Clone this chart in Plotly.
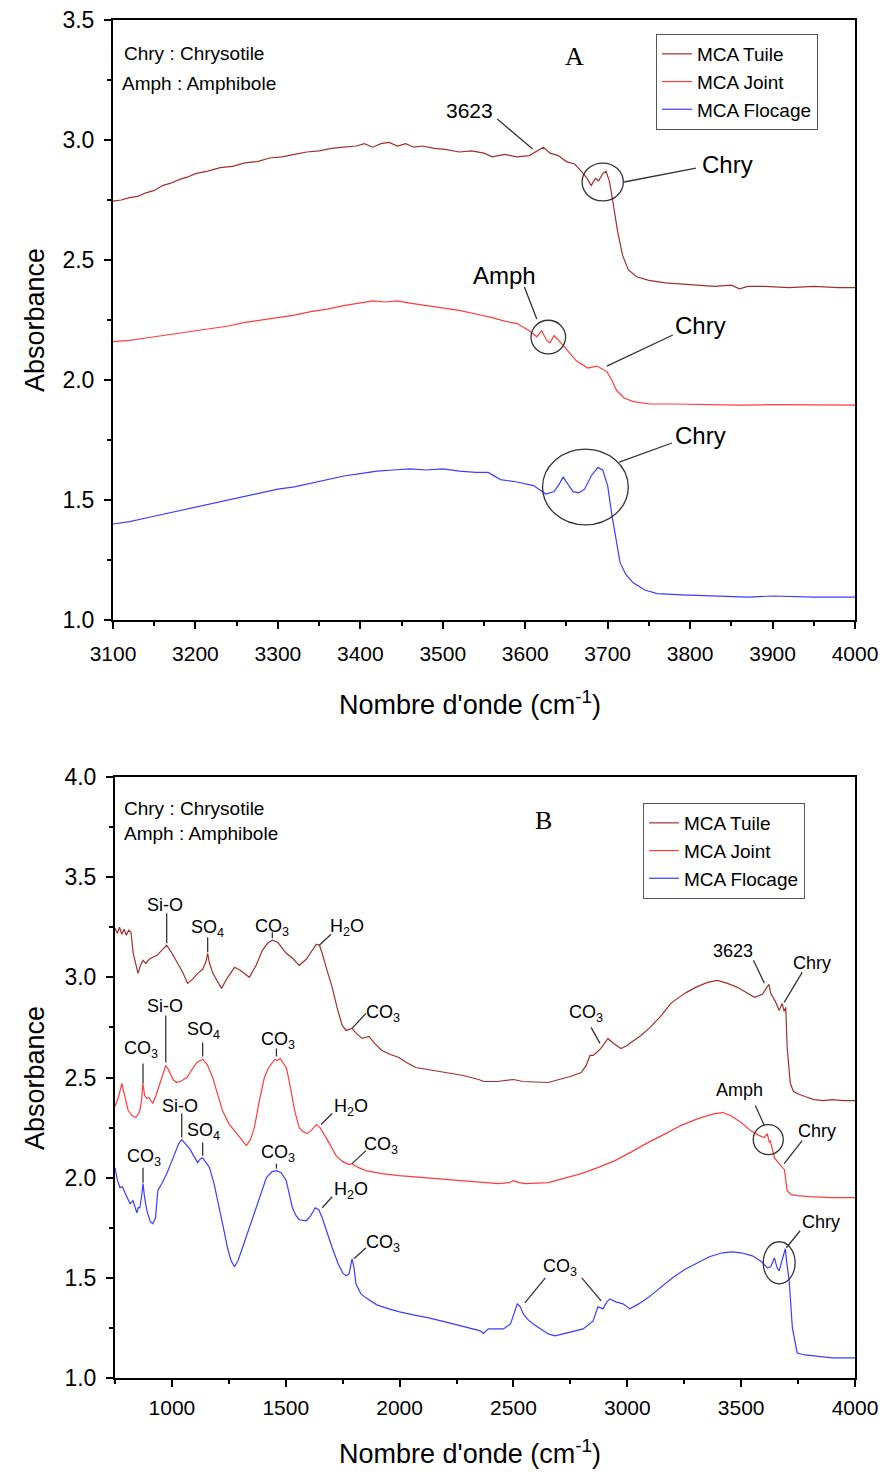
import plotly.graph_objects as go

W, H = 887, 1474
OFF = 8  # page body margin of the html page
FW, FH = W - OFF, H - OFF

# ---------- Panel A data (3100-4000 cm-1) ----------
a_tuile_x = [3100, 3110, 3120, 3130, 3140, 3150, 3160, 3170, 3180, 3190, 3200, 3215, 3230, 3245, 3260,
             3275, 3290, 3305, 3320, 3335, 3350, 3365, 3380, 3395, 3405, 3415, 3425, 3435, 3445, 3455,
             3465, 3475, 3490, 3505, 3520, 3535, 3550, 3560, 3575, 3590, 3605, 3615, 3622, 3630, 3640,
             3650, 3660, 3668, 3675, 3680, 3685, 3689, 3694, 3698, 3702, 3706, 3712, 3718, 3725, 3735,
             3750, 3770, 3790, 3810, 3830, 3850, 3860, 3870, 3890, 3920, 3950, 3980, 4000]
a_tuile_y = [2.745, 2.75, 2.76, 2.765, 2.78, 2.79, 2.81, 2.82, 2.835, 2.845, 2.86, 2.87, 2.885, 2.89, 2.905,
             2.91, 2.925, 2.93, 2.94, 2.95, 2.955, 2.965, 2.97, 2.975, 2.985, 2.97, 2.985, 2.99, 2.975, 2.985,
             2.97, 2.975, 2.965, 2.96, 2.95, 2.955, 2.945, 2.93, 2.94, 2.93, 2.935, 2.955, 2.97, 2.945, 2.935,
             2.91, 2.9, 2.87, 2.84, 2.81, 2.84, 2.83, 2.86, 2.87, 2.83, 2.75, 2.62, 2.52, 2.46, 2.43,
             2.415, 2.405, 2.40, 2.395, 2.39, 2.395, 2.38, 2.39, 2.39, 2.385, 2.39, 2.385, 2.385]

a_joint_x = [3100, 3120, 3140, 3160, 3180, 3200, 3220, 3240, 3260, 3280, 3300, 3320, 3340, 3360, 3380,
             3400, 3415, 3430, 3445, 3460, 3480, 3500, 3520, 3540, 3560, 3575, 3590, 3605, 3614, 3620,
             3626, 3630, 3635, 3642, 3652, 3662, 3676, 3687, 3699, 3705, 3711, 3720, 3731, 3751, 3780,
             3820, 3860, 3900, 3950, 4000]
a_joint_y = [2.16, 2.165, 2.175, 2.185, 2.195, 2.205, 2.215, 2.225, 2.24, 2.25, 2.26, 2.27, 2.285, 2.295, 2.31,
             2.32, 2.33, 2.325, 2.33, 2.32, 2.31, 2.30, 2.29, 2.275, 2.26, 2.245, 2.235, 2.205, 2.18, 2.205,
             2.165, 2.155, 2.185, 2.16, 2.12, 2.08, 2.05, 2.058, 2.035, 2.0, 1.955, 1.925, 1.91, 1.90, 1.90,
             1.897, 1.895, 1.897, 1.895, 1.895]

a_floc_x = [3100, 3120, 3140, 3160, 3180, 3200, 3220, 3240, 3260, 3280, 3300, 3320, 3340, 3360, 3380,
            3400, 3420, 3440, 3460, 3480, 3500, 3520, 3540, 3555, 3562, 3570, 3590, 3610, 3625, 3635,
            3641, 3646, 3652, 3658, 3665, 3672, 3680, 3688, 3694, 3700, 3705, 3710, 3715, 3722, 3731,
            3745, 3760, 3790, 3830, 3870, 3900, 3950, 4000]
a_floc_y = [1.40, 1.41, 1.425, 1.44, 1.455, 1.47, 1.485, 1.50, 1.515, 1.53, 1.545, 1.555, 1.57, 1.585, 1.60,
            1.61, 1.62, 1.625, 1.63, 1.625, 1.63, 1.62, 1.615, 1.615, 1.60, 1.585, 1.575, 1.56, 1.525, 1.535,
            1.565, 1.595, 1.565, 1.535, 1.53, 1.545, 1.60, 1.635, 1.625, 1.56, 1.44, 1.33, 1.24, 1.19, 1.155,
            1.125, 1.11, 1.105, 1.10, 1.095, 1.10, 1.095, 1.095]

# ---------- Panel B data (750-4000 cm-1) ----------
b_tuile_x = [750, 760, 770, 780, 790, 800, 810, 820, 830, 845, 851, 862, 873, 885, 900, 916, 935, 955, 977,
             995, 1021, 1045, 1069, 1090, 1113, 1135, 1150, 1157, 1165, 1180, 1200, 1218, 1245, 1275, 1300,
             1340, 1370, 1397, 1420, 1441, 1465, 1502, 1530, 1559, 1590, 1615, 1634, 1648, 1660, 1680, 1704,
             1725, 1748, 1765, 1780, 1791, 1810, 1835, 1865, 1890, 1922, 1960, 1997, 2030, 2071, 2150, 2215,
             2280, 2347, 2370, 2430, 2470, 2500, 2540, 2600, 2653, 2700, 2750, 2797, 2820, 2836, 2850, 2865,
             2880, 2900, 2915, 2940, 2972, 3000, 3016, 3060, 3100, 3150, 3191, 3221, 3260, 3300, 3352, 3396,
             3440, 3484, 3520, 3558, 3593, 3610, 3622, 3630, 3650, 3667, 3680, 3689, 3696, 3702, 3716, 3730,
             3746, 3780, 3820, 3860, 3900, 3950, 4000]
b_tuile_y = [3.245, 3.22, 3.25, 3.215, 3.24, 3.21, 3.235, 3.225, 3.12, 3.04, 3.02, 3.06, 3.085, 3.07, 3.09,
             3.10, 3.11, 3.135, 3.16, 3.13, 3.08, 3.03, 2.97, 2.99, 3.02, 3.04, 3.08, 3.12, 3.07, 3.02, 2.98,
             2.945, 3.0, 3.05, 3.035, 3.00, 3.06, 3.135, 3.17, 3.185, 3.175, 3.12, 3.095, 3.06, 3.09, 3.13,
             3.165, 3.16, 3.12, 3.04, 2.95, 2.85, 2.76, 2.735, 2.74, 2.745, 2.72, 2.695, 2.705, 2.67, 2.635,
             2.615, 2.60, 2.575, 2.55, 2.535, 2.525, 2.51, 2.49, 2.48, 2.48, 2.485, 2.49, 2.48, 2.478, 2.475,
             2.49, 2.505, 2.525, 2.56, 2.61, 2.61, 2.625, 2.64, 2.67, 2.695, 2.67, 2.645, 2.66, 2.675, 2.71,
             2.75, 2.81, 2.87, 2.895, 2.925, 2.95, 2.975, 2.985, 2.97, 2.95, 2.925, 2.90, 2.915, 2.945, 2.965,
             2.92, 2.88, 2.835, 2.87, 2.83, 2.85, 2.65, 2.47, 2.43, 2.42, 2.405, 2.39, 2.385, 2.39, 2.385, 2.385]

b_joint_x = [750, 765, 780, 795, 808, 825, 842, 858, 866, 873, 880, 890, 899, 908, 916, 930, 947, 960, 973,
             982, 990, 1005, 1021, 1045, 1065, 1090, 1109, 1135, 1155, 1179, 1200, 1222, 1250, 1284, 1310,
             1327, 1345, 1362, 1385, 1406, 1425, 1441, 1452, 1463, 1475, 1490, 1502, 1512, 1524, 1540, 1559,
             1575, 1594, 1615, 1634, 1650, 1677, 1700, 1721, 1750, 1778, 1791, 1820, 1852, 1920, 1997, 2100,
             2215, 2330, 2434, 2480, 2500, 2525, 2552, 2653, 2720, 2797, 2870, 2946, 3020, 3090, 3160, 3235,
             3310, 3383, 3420, 3453, 3500, 3541, 3580, 3602, 3615, 3624, 3628, 3646, 3667, 3680, 3690, 3702,
             3720, 3746, 3800, 3900, 4000]
b_joint_y = [2.355, 2.40, 2.47, 2.39, 2.335, 2.31, 2.30, 2.33, 2.38, 2.47, 2.41, 2.395, 2.40, 2.385, 2.37,
             2.41, 2.47, 2.52, 2.56, 2.545, 2.525, 2.49, 2.475, 2.485, 2.50, 2.54, 2.575, 2.59, 2.565, 2.50,
             2.42, 2.335, 2.27, 2.22, 2.18, 2.16, 2.19, 2.25, 2.39, 2.50, 2.55, 2.575, 2.59, 2.585, 2.595,
             2.57, 2.55, 2.5, 2.42, 2.33, 2.25, 2.23, 2.22, 2.24, 2.265, 2.25, 2.20, 2.15, 2.11, 2.08, 2.065,
             2.07, 2.05, 2.035, 2.02, 2.01, 2.0, 1.99, 1.98, 1.97, 1.975, 1.985, 1.975, 1.97, 1.975, 1.995,
             2.02, 2.05, 2.085, 2.13, 2.175, 2.215, 2.26, 2.295, 2.32, 2.325, 2.31, 2.275, 2.235, 2.21, 2.20,
             2.22, 2.175, 2.185, 2.10, 2.07, 2.05, 2.04, 1.935, 1.915, 1.91, 1.905, 1.90, 1.90]

b_floc_x = [750, 760, 772, 783, 794, 805, 816, 829, 838, 846, 852, 859, 866, 873, 880, 890, 905, 916, 928,
            938, 955, 977, 995, 1012, 1030, 1043, 1060, 1078, 1095, 1113, 1125, 1135, 1150, 1165, 1185, 1209,
            1230, 1244, 1260, 1275, 1290, 1310, 1340, 1371, 1395, 1415, 1440, 1459, 1480, 1502, 1515, 1529,
            1545, 1559, 1590, 1610, 1629, 1645, 1660, 1680, 1704, 1730, 1750, 1765, 1778, 1791, 1800, 1808,
            1830, 1852, 1900, 1953, 2000, 2060, 2128, 2200, 2250, 2303, 2340, 2355, 2368, 2390, 2456, 2487,
            2505, 2517, 2530, 2543, 2565, 2587, 2620, 2653, 2683, 2720, 2760, 2806, 2850, 2871, 2883, 2893,
            2910, 2924, 2950, 2981, 3011, 3050, 3090, 3140, 3199, 3250, 3309, 3360, 3418, 3460, 3500, 3549,
            3590, 3615, 3630, 3646, 3658, 3667, 3680, 3694, 3700, 3711, 3725, 3746, 3780, 3812, 3850, 3900, 4000]
b_floc_y = [2.05, 1.99, 1.95, 1.955, 1.925, 1.90, 1.87, 1.885, 1.85, 1.825, 1.85, 1.85, 1.90, 1.97, 1.90,
            1.835, 1.78, 1.77, 1.80, 1.935, 1.97, 2.02, 2.07, 2.12, 2.17, 2.19, 2.17, 2.145, 2.11, 2.075, 2.095,
            2.10, 2.075, 2.05, 1.97, 1.85, 1.73, 1.65, 1.585, 1.555, 1.585, 1.65, 1.75, 1.85, 1.94, 2.00, 2.03,
            2.035, 2.025, 1.985, 1.92, 1.85, 1.81, 1.79, 1.785, 1.81, 1.85, 1.84, 1.80, 1.73, 1.65, 1.57, 1.525,
            1.51, 1.52, 1.595, 1.55, 1.47, 1.42, 1.40, 1.365, 1.345, 1.33, 1.315, 1.30, 1.28, 1.265, 1.25, 1.24,
            1.235, 1.222, 1.245, 1.245, 1.27, 1.33, 1.37, 1.355, 1.32, 1.29, 1.27, 1.245, 1.22, 1.21, 1.22,
            1.23, 1.245, 1.285, 1.355, 1.35, 1.345, 1.38, 1.395, 1.38, 1.37, 1.345, 1.37, 1.40, 1.445, 1.50,
            1.54, 1.575, 1.605, 1.625, 1.63, 1.625, 1.61, 1.58, 1.55, 1.555, 1.60, 1.55, 1.535, 1.59, 1.645,
            1.58, 1.485, 1.25, 1.125, 1.115, 1.11, 1.105, 1.10, 1.10]

names = ["MCA Tuile", "MCA Joint", "MCA Flocage"]
colors = ["#A0302F", "#FF3B3B", "#3C3CFF"]

FONT = "Arial, Liberation Sans, sans-serif"

fig = go.Figure()

for nm, col, xs, ys in zip(names, colors, [a_tuile_x, a_joint_x, a_floc_x], [a_tuile_y, a_joint_y, a_floc_y]):
    fig.add_trace(go.Scatter(x=xs, y=ys, mode="lines", name=nm, line=dict(color=col, width=1.2),
                             xaxis="x", yaxis="y", legend="legend"))
for nm, col, xs, ys in zip(names, colors, [b_tuile_x, b_joint_x, b_floc_x], [b_tuile_y, b_joint_y, b_floc_y]):
    fig.add_trace(go.Scatter(x=xs, y=ys, mode="lines", name=nm, line=dict(color=col, width=1.2),
                             xaxis="x2", yaxis="y2", legend="legend2"))


# page-pixel helpers (the figure div sits OFF px from the page corner)
def fx(px):
    return (px - OFF) / FW


def fy(py):
    return 1 - (py - OFF) / FH


axis_common = dict(showline=True, linecolor="black", linewidth=2, mirror=True, ticks="outside",
                   ticklen=7, tickwidth=1.5, tickcolor="black", showgrid=False, zeroline=False,
                   automargin=False, ticklabeloverflow="allow")
xtickfont = dict(family=FONT, size=21, color="black")
ytickfont = dict(family=FONT, size=23, color="black")
minor_x = dict(ticks="outside", ticklen=4, tickcolor="black", tickwidth=1.5)

fig.update_layout(
    template="none",
    xaxis=dict(domain=[fx(113), fx(855)], range=[3100, 4000], dtick=100, anchor="y",
               tickfont=xtickfont, ticklabelstandoff=7, minor=dict(dtick=50, **minor_x), **axis_common),
    yaxis=dict(domain=[fy(620), fy(20)], range=[1.0, 3.5], dtick=0.5, tickformat=".1f",
               anchor="x", tickfont=ytickfont, ticklabelstandoff=5,
               minor=dict(dtick=0.25, **minor_x), **axis_common),
    xaxis2=dict(domain=[fx(115), fx(855)], range=[750, 4000], dtick=500, tick0=0, anchor="y2",
                tickfont=xtickfont, ticklabelstandoff=3, minor=dict(dtick=250, **minor_x), **axis_common),
    yaxis2=dict(domain=[fy(1378), fy(777)], range=[1.0, 4.0], dtick=0.5, tickformat=".1f",
                anchor="x2", tickfont=ytickfont, ticklabelstandoff=5,
                minor=dict(dtick=0.25, **minor_x), **axis_common),
    legend=dict(x=fx(656), y=fy(34), xanchor="left", yanchor="top", bgcolor="white",
                bordercolor="#555", borderwidth=1, font=dict(family=FONT, size=19, color="black"),
                tracegroupgap=0, itemwidth=30),
    legend2=dict(x=fx(643), y=fy(803), xanchor="left", yanchor="top", bgcolor="white",
                 bordercolor="#555", borderwidth=1, font=dict(family=FONT, size=19, color="black"),
                 tracegroupgap=0, itemwidth=30),
    width=FW, height=FH, margin=dict(l=0, r=0, t=0, b=0),
    paper_bgcolor="white", plot_bgcolor="white", showlegend=True,
)

ann = []
shapes = []
LC = "#333333"


def label(text, x, y, ref, size, family=FONT, xanchor="center"):
    ann.append(dict(text=text, x=x, y=y, xref=ref[0], yref=ref[1], showarrow=False, xanchor=xanchor,
                    yanchor="middle", font=dict(family=family, size=size, color="black")))


def seg(x0, y0, x1, y1, ref):
    shapes.append(dict(type="line", x0=x0, y0=y0, x1=x1, y1=y1, xref=ref[0], yref=ref[1],
                       line=dict(color=LC, width=1.3)))


def ring(cx, cy, rx, ry, ref):
    shapes.append(dict(type="circle", x0=cx - rx, x1=cx + rx, y0=cy - ry, y1=cy + ry,
                       xref=ref[0], yref=ref[1], line=dict(color=LC, width=1.3)))


A = ("x", "y")
B = ("x2", "y2")

# Panel A labels
label("Chry : Chrysotile", 3111, 3.3625, A, 19, xanchor="left")
label("Amph : Amphibole", 3108, 3.2375, A, 19, xanchor="left")
label("A", 3660, 3.346, A, 26, family="Liberation Serif, Times New Roman, serif")
label("3623", 3532, 3.125, A, 21)
seg(3566, 3.0875, 3609, 2.9625, A)
ring(3694, 2.825, 25, 0.079, A)
label("Chry", 3845, 2.896, A, 24)
seg(3720, 2.825, 3807, 2.883, A)
label("Amph", 3575, 2.4375, A, 24)
seg(3599, 2.3875, 3614, 2.254, A)
ring(3628, 2.179, 21, 0.07, A)
label("Chry", 3812, 2.229, A, 24)
seg(3699, 2.058, 3779, 2.1875, A)
ring(3673, 1.554, 52, 0.158, A)
label("Chry", 3812, 1.767, A, 24)
seg(3714, 1.658, 3778, 1.7375, A)

# Panel B labels
label("Chry : Chrysotile", 781, 3.845, B, 19, xanchor="left")
label("Amph : Amphibole", 781, 3.72, B, 19, xanchor="left")
label("B", 2631, 3.785, B, 26, family="Liberation Serif, Times New Roman, serif")

CO3 = "CO<sub>3</sub>"
SO4 = "SO<sub>4</sub>"
H2O = "H<sub>2</sub>O"
S = 18

# Tuile
label("Si-O", 969, 3.36, B, S)
seg(977, 3.32, 977, 3.17, B)
label(SO4, 1157, 3.245, B, S)
seg(1157, 3.2, 1157, 3.125, B)
label(CO3, 1441, 3.25, B, S)
seg(1441, 3.225, 1441, 3.195, B)
label(H2O, 1769, 3.25, B, S)
seg(1699, 3.215, 1647, 3.16, B)
label(CO3, 1927, 2.82, B, S)
seg(1852, 2.82, 1791, 2.745, B)
label(CO3, 2819, 2.82, B, S)
seg(2841, 2.75, 2880, 2.67, B)
label("3623", 3462, 3.13, B, S)
seg(3554, 3.085, 3602, 2.97, B)
label("Chry", 3812, 3.07, B, S)
seg(3768, 3.025, 3689, 2.875, B)

# Joint
label(CO3, 864, 2.64, B, S)
seg(873, 2.57, 873, 2.47, B)
label("Si-O", 969, 2.855, B, S)
seg(973, 2.81, 973, 2.575, B)
label(SO4, 1139, 2.735, B, S)
seg(1135, 2.675, 1135, 2.605, B)
label(CO3, 1467, 2.685, B, S)
seg(1459, 2.645, 1459, 2.605, B)
label(H2O, 1787, 2.35, B, S)
seg(1704, 2.32, 1655, 2.265, B)
label(CO3, 1918, 2.16, B, S)
seg(1852, 2.135, 1791, 2.07, B)
label("Amph", 3492, 2.44, B, S)
seg(3562, 2.36, 3602, 2.26, B)
ring(3619, 2.19, 66, 0.075, B)
label("Chry", 3834, 2.235, B, S)
seg(3768, 2.185, 3689, 2.07, B)

# Flocage
label(CO3, 877, 2.10, B, S)
seg(873, 2.05, 873, 1.975, B)
label("Si-O", 1034, 2.36, B, S)
seg(1043, 2.32, 1043, 2.20, B)
label(SO4, 1139, 2.23, B, S)
seg(1135, 2.175, 1135, 2.11, B)
label(CO3, 1467, 2.12, B, S)
seg(1459, 2.07, 1459, 2.045, B)
label(H2O, 1787, 1.935, B, S)
seg(1704, 1.905, 1660, 1.85, B)
label(CO3, 1927, 1.67, B, S)
seg(1852, 1.65, 1800, 1.595, B)
label(CO3, 2705, 1.55, B, S)
seg(2640, 1.5, 2550, 1.375, B)
seg(2800, 1.5, 2885, 1.385, B)
ring(3667, 1.575, 70, 0.105, B)
label("Chry", 3851, 1.78, B, S)
seg(3759, 1.735, 3698, 1.65, B)

# axis titles
for yc in [320, 1078]:
    ann.append(dict(text="Absorbance", x=fx(35), y=fy(yc), xref="paper", yref="paper", showarrow=False,
                    xanchor="center", yanchor="middle", textangle=-90,
                    font=dict(family=FONT, size=27, color="black")))
for yc in [703, 1452]:
    ann.append(dict(text="Nombre d'onde (cm<sup>-1</sup>)", x=fx(470), y=fy(yc), xref="paper",
                    yref="paper", showarrow=False, xanchor="center", yanchor="middle",
                    font=dict(family=FONT, size=27, color="black")))

fig.update_layout(annotations=ann, shapes=shapes)
fig.write_html("out.html")
